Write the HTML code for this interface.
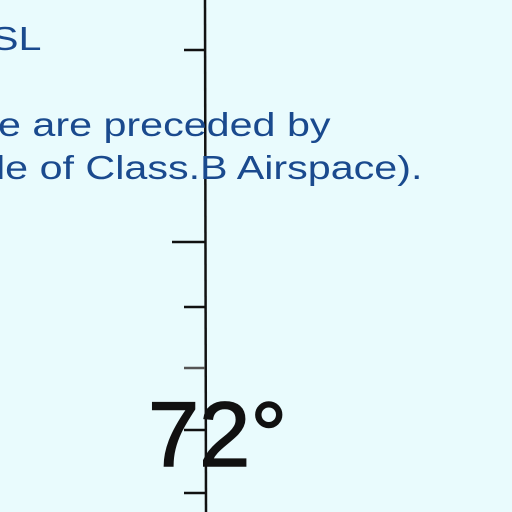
<!DOCTYPE html>
<html><head><meta charset="utf-8"><style>
body{margin:0;width:512px;height:512px;overflow:hidden;background:#e9fbfd;position:relative;font-family:"Liberation Sans",sans-serif}
.t{position:absolute;color:#1a4a8e;font-size:33px;white-space:nowrap;line-height:1;transform-origin:0 0;transform:scaleX(1.25)}
</style></head><body>
<svg width="512" height="512" style="position:absolute;left:0;top:0">
<line x1="205" y1="0" x2="206" y2="512" stroke="#111" stroke-width="2.5"/>
<line x1="184" y1="50" x2="205" y2="50" stroke="#111" stroke-width="2.5"/>
<line x1="172" y1="242" x2="205" y2="242" stroke="#111" stroke-width="2.5"/>
<line x1="184" y1="307" x2="205" y2="307" stroke="#111" stroke-width="2.5"/>
<line x1="184" y1="368" x2="205" y2="368" stroke="#555" stroke-width="2.5"/>
<line x1="184" y1="430" x2="205" y2="430" stroke="#111" stroke-width="2.5"/>
<line x1="184" y1="493" x2="205" y2="493" stroke="#111" stroke-width="2.5"/>
</svg>
<div class="t" style="left:-9px;top:22px">SL</div>
<div class="t" style="left:-2px;top:108px">e are preceded by</div>
<div class="t" style="left:-4px;top:151px">le of Class.B Airspace).</div>
<div style="position:absolute;left:148px;top:389px;font-size:92px;color:#111;line-height:1;-webkit-text-stroke:1.5px #111">72°</div>
</body></html>
